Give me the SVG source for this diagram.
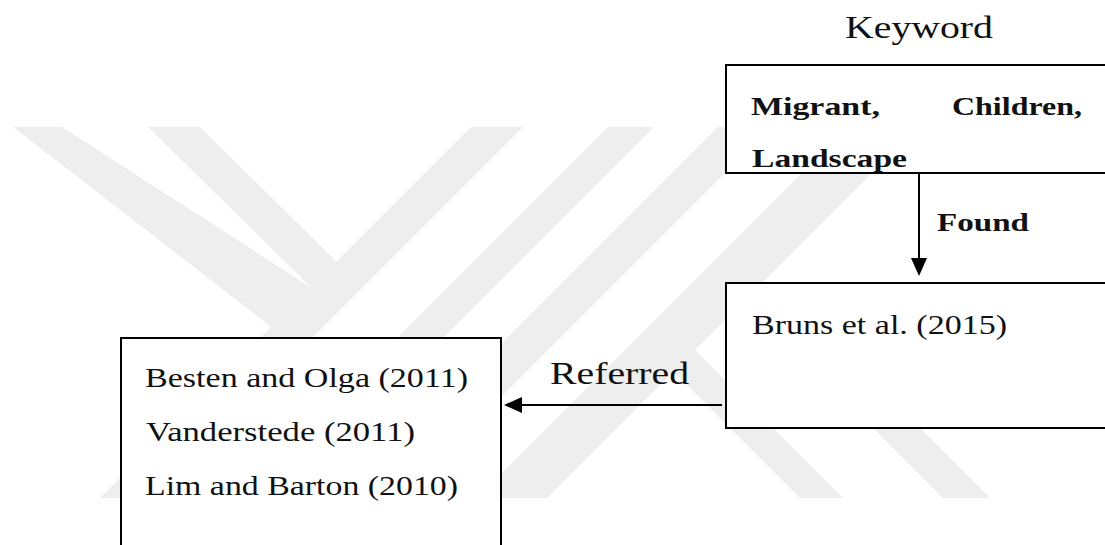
<svg xmlns="http://www.w3.org/2000/svg" width="1105" height="545" viewBox="0 0 1105 545">
<style>
.wm{fill:#eeeeee}
.box{fill:#ffffff;stroke:#000000;stroke-width:2}
.t{font-family:"Liberation Serif","Times New Roman",serif;fill:#111111}
.b{font-weight:bold}
.edge{stroke:#000000;stroke-width:2;fill:none}
</style>
<defs>
<marker id="ah" markerUnits="userSpaceOnUse" markerWidth="18" markerHeight="16" refX="0" refY="8" orient="auto">
<path d="M0,0 L18,8 L0,16 z" fill="#000000"/>
</marker>
</defs>
<rect width="1105" height="545" fill="#ffffff"/>
<g id="watermark">
<polygon class="wm" points="13,127 62,127 318,292 278,332"/>
<polygon class="wm" points="148,127 200,127 342,267 317,293"/>
<polygon class="wm" points="471,127 523,127 152,498 100,498"/>
<polygon class="wm" points="608,127 654,127 283,498 237,498"/>
<polygon class="wm" points="718,127 771,127 400,498 347,498"/>
<polygon class="wm" points="848,127 918,127 547,498 477,498"/>
<polygon class="wm" points="646,344 695,350 843,498 800,498"/>
<polygon class="wm" points="800,355 847,355 990,498 943,498"/>
</g>
<g id="connectors">
<line class="edge" x1="919" y1="173" x2="919" y2="258" marker-end="url(#ah)"/>
<line class="edge" x1="722" y1="405" x2="522" y2="405" marker-end="url(#ah)"/>
<text class="t b" x="937" y="231" font-size="25" textLength="92" lengthAdjust="spacingAndGlyphs">Found</text>
<text class="t" x="550" y="384" font-size="32" textLength="139" lengthAdjust="spacingAndGlyphs">Referred</text>
</g>
<g id="node-keyword">
<text class="t" x="845" y="38" font-size="32" textLength="148" lengthAdjust="spacingAndGlyphs">Keyword</text>
<rect class="box" x="726" y="65" width="400" height="108"/>
<text class="t b" x="751" y="115" font-size="25" textLength="129" lengthAdjust="spacingAndGlyphs">Migrant,</text>
<text class="t b" x="952" y="115" font-size="25" textLength="130" lengthAdjust="spacingAndGlyphs">Children,</text>
<text class="t b" x="752" y="167" font-size="25" textLength="155" lengthAdjust="spacingAndGlyphs">Landscape</text>
</g>
<g id="node-bruns">
<rect class="box" x="726" y="283" width="400" height="145"/>
<text class="t" x="752" y="334" font-size="27" textLength="255" lengthAdjust="spacingAndGlyphs">Bruns et al. (2015)</text>
</g>
<g id="node-referred">
<rect class="box" x="121" y="338" width="380" height="230"/>
<text class="t" x="145" y="387" font-size="27" textLength="323" lengthAdjust="spacingAndGlyphs">Besten and Olga (2011)</text>
<text class="t" x="146" y="441" font-size="27" textLength="269" lengthAdjust="spacingAndGlyphs">Vanderstede (2011)</text>
<text class="t" x="145" y="495" font-size="27" textLength="313" lengthAdjust="spacingAndGlyphs">Lim and Barton (2010)</text>
</g>
</svg>
